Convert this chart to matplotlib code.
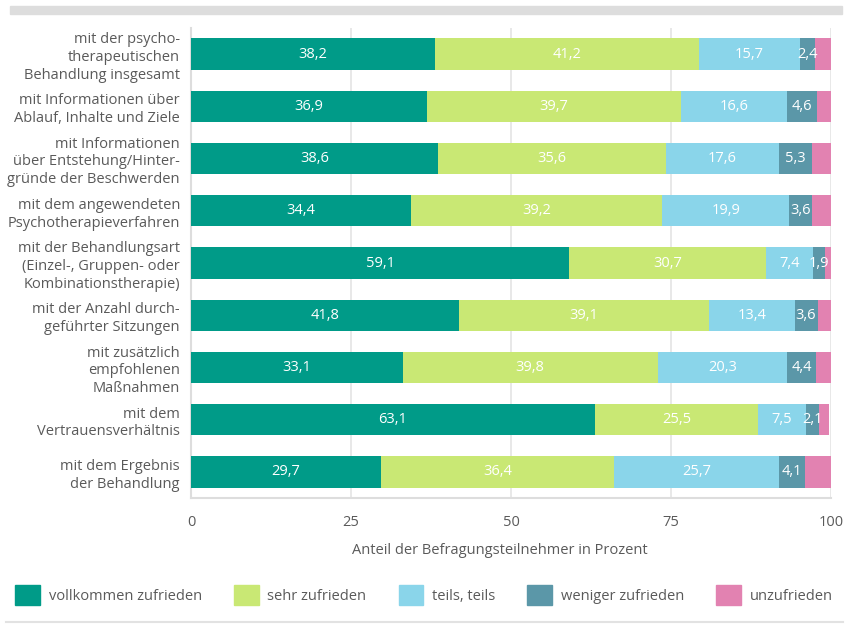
import matplotlib.pyplot as plt
from matplotlib.patches import Rectangle, Patch
from matplotlib.lines import Line2D

plt.rcParams['font.family'] = ['Open Sans', 'DejaVu Sans']

categories = [
    "mit der psycho-\ntherapeutischen\nBehandlung insgesamt",
    "mit Informationen über\nAblauf, Inhalte und Ziele",
    "mit Informationen\nüber Entstehung/Hinter-\ngründe der Beschwerden",
    "mit dem angewendeten\nPsychotherapieverfahren",
    "mit der Behandlungsart\n(Einzel-, Gruppen- oder\nKombinationstherapie)",
    "mit der Anzahl durch-\ngeführter Sitzungen",
    "mit zusätzlich\nempfohlenen\nMaßnahmen",
    "mit dem\nVertrauensverhältnis",
    "mit dem Ergebnis\nder Behandlung",
]
series_names = ["vollkommen zufrieden", "sehr zufrieden", "teils, teils",
                "weniger zufrieden", "unzufrieden"]
vollkommen = [38.2, 36.9, 38.6, 34.4, 59.1, 41.8, 33.1, 63.1, 29.7]
sehr = [41.2, 39.7, 35.6, 39.2, 30.7, 39.1, 39.8, 25.5, 36.4]
teils = [15.7, 16.6, 17.6, 19.9, 7.4, 13.4, 20.3, 7.5, 25.7]
weniger = [2.4, 4.6, 5.3, 3.6, 1.9, 3.6, 4.4, 2.1, 4.1]
unzufrieden = [2.5, 2.2, 2.9, 2.9, 0.9, 2.1, 2.4, 1.5, 4.1]
colors = ["#009B88", "#C9E874", "#8AD5EA", "#5B97A8", "#E282B1"]
text_col = "#5a5a5a"

fig = plt.figure(figsize=(8.48, 6.24), dpi=100)
ax = fig.add_axes([191 / 848, 1 - 498 / 624, 640 / 848, 470 / 624])

series = [vollkommen, sehr, teils, weniger, unzufrieden]
y = list(range(len(categories)))
left = [0.0] * len(categories)
for i, (vals, col) in enumerate(zip(series, colors)):
    bars = ax.barh(y, vals, left=left, height=0.6, color=col, zorder=3)
    if i < 4:
        for b, v in zip(bars, vals):
            ax.text(b.get_x() + b.get_width() / 2, b.get_y() + b.get_height() / 2,
                    f"{v:.1f}".replace(".", ","), color="white", ha="center",
                    va="center", fontsize=10.5, zorder=4)
    left = [l + v for l, v in zip(left, vals)]

ax.set_ylim(8.5, -0.5)
ax.set_xlim(0, 100)
ax.set_xticks([0, 25, 50, 75, 100])
ax.set_yticks(y)
ax.set_yticklabels(categories, fontsize=10, color=text_col, linespacing=1.25)
ax.tick_params(axis="both", length=0, colors=text_col, labelsize=10.5)
ax.tick_params(axis="x", pad=12)
ax.tick_params(axis="y", pad=8)
ax.grid(axis="x", color="#e4e4e4", linewidth=1.2, zorder=0)
for s in ["top", "right"]:
    ax.spines[s].set_visible(False)
for s in ["left", "bottom"]:
    ax.spines[s].set_color("#dddddd")
    ax.spines[s].set_linewidth(1.5)
ax.set_xlabel("Anteil der Befragungsteilnehmer in Prozent", fontsize=10.5,
              color=text_col)
ax.xaxis.set_label_coords(0.483, -0.095)

# grey band on top and line at bottom
fig.patches.append(Rectangle((10 / 848, 1 - 14 / 624), 832 / 848, 8 / 624,
                             transform=fig.transFigure, color="#dddddd"))
fig.lines.append(Line2D([6 / 848, 843 / 848], [1 - 622 / 624] * 2,
                        transform=fig.transFigure, color="#e2e2e2", linewidth=1.5))

handles = [Patch(color=c) for c in colors]
fig.legend(handles, series_names, loc="center", bbox_to_anchor=(0.5, 1 - 595 / 624),
           ncol=5, frameon=False, fontsize=10.5, labelcolor=text_col,
           handlelength=1.7, handleheight=1.7, handletextpad=0.6, columnspacing=2.2)

fig.savefig("out.png", dpi=100)
